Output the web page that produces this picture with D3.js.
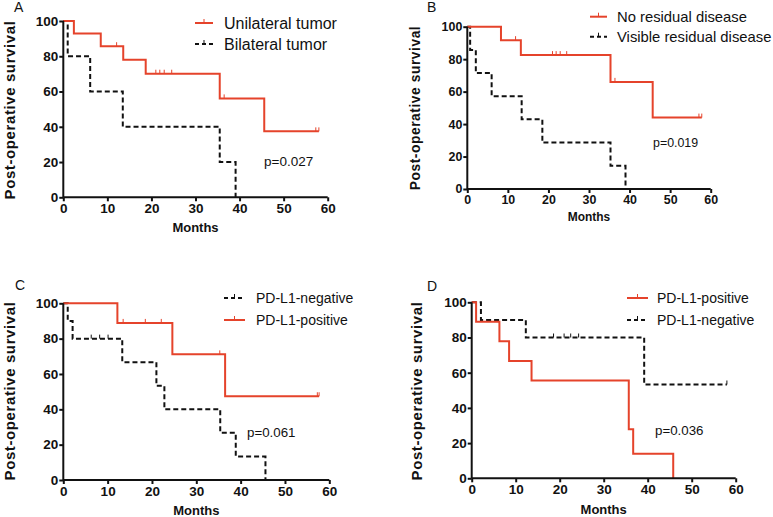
<!DOCTYPE html>
<html><head><meta charset="utf-8">
<script src="https://cdn.jsdelivr.net/npm/d3@7"></script>
<style>body{margin:0;background:#fff} text{font-family:Arial,"Liberation Sans",Helvetica,sans-serif;fill:#111}</style>
</head><body><svg id="c" width="773" height="517"></svg>
<script>
// ---------- data ----------
const xTicks = [0, 10, 20, 30, 40, 50, 60];
const yTicks = [0, 20, 40, 60, 80, 100];
const panelLetters = ["A", "B", "C", "D"];
const pValues = ["p=0.027", "p=0.019", "p=0.061", "p=0.036"];
const xTitle = "Months";
const yTitle = "Post-operative survival";

// Panel A
const aUniName = "Unilateral tumor";
const aUniTimes = [0, 2.4, 8.5, 13.6, 18.7, 35.5, 45.6, 58];
const aUniSurv = [100, 92.9, 85.7, 78.0, 70.1, 56.1, 37.4, 37.4];
const aUniCensor = [12.1, 21, 21.9, 22.9, 24.6, 36.5, 57.3, 58];
const aBiName = "Bilateral tumor";
const aBiTimes = [0, 1.0, 6.1, 13.5, 35.5, 39.1];
const aBiSurv = [100, 80, 60, 40, 20, 0];
const aBiCensor = [];

// Panel B
const bNoName = "No residual disease";
const bNoTimes = [0, 8.3, 13.2, 35.3, 45.7, 57.8];
const bNoSurv = [100, 91.7, 82.5, 66.0, 44.0, 44.0];
const bNoCensor = [11.9, 21, 21.9, 22.9, 24.5, 36.4, 57.1, 57.8];
const bVisName = "Visible residual disease";
const bVisTimes = [0, 0.7, 2.1, 6.0, 13.4, 18.5, 35.3, 39.0];
const bVisSurv = [100, 85.7, 71.4, 57.1, 42.9, 28.6, 14.3, 0];
const bVisCensor = [];

// Panel C
const cNegName = "PD-L1-negative";
const cNegTimes = [0, 1.0, 2.1, 13.3, 21.0, 22.8, 35.4, 38.9, 45.6];
const cNegSurv = [100, 90, 80, 66.7, 53.3, 40, 26.7, 13.3, 0];
const cNegCensor = [6.3, 8.2, 10.1];
const cPosName = "PD-L1-positive";
const cPosTimes = [0, 12.2, 24.6, 36.5, 57.7];
const cPosSurv = [100, 88.9, 71.1, 47.4, 47.4];
const cPosCensor = [13.5, 18.5, 22.1, 35.3, 57.3, 57.7];

// Panel D
const dPosName = "PD-L1-positive";
const dPosTimes = [0, 1.0, 6.3, 8.5, 13.6, 35.7, 36.7, 45.8];
const dPosSurv = [100, 88.9, 77.8, 66.7, 55.6, 27.8, 13.9, 0];
const dPosCensor = [];
const dNegName = "PD-L1-negative";
const dNegTimes = [0, 2.1, 12.3, 39.2, 58];
const dNegSurv = [100, 90, 80, 53.3, 53.3];
const dNegCensor = [18.6, 21.0, 22.5, 24.3, 58];

// ---------- styles / layout ----------
const RED = "#e5432b", BLACK = "#111";
const series = [
  [{name: aUniName, t: aUniTimes, s: aUniSurv, c: aUniCensor, col: RED, dash: null},
   {name: aBiName, t: aBiTimes, s: aBiSurv, c: aBiCensor, col: BLACK, dash: "5,3"}],
  [{name: bNoName, t: bNoTimes, s: bNoSurv, c: bNoCensor, col: RED, dash: null},
   {name: bVisName, t: bVisTimes, s: bVisSurv, c: bVisCensor, col: BLACK, dash: "5,3"}],
  [{name: cNegName, t: cNegTimes, s: cNegSurv, c: cNegCensor, col: BLACK, dash: "5,3"},
   {name: cPosName, t: cPosTimes, s: cPosSurv, c: cPosCensor, col: RED, dash: null}],
  [{name: dPosName, t: dPosTimes, s: dPosSurv, c: dPosCensor, col: RED, dash: null},
   {name: dNegName, t: dNegTimes, s: dNegSurv, c: dNegCensor, col: BLACK, dash: "5,3"}]
];
const layout = [
  {x0: 63.3, x1: 327.7, y0: 197.3, y1: 21, k: 1, leg: {lx0: 195, lx1: 213, ly: [23, 44], tx: 224, fs: 16},
   p: {x: 264, y: 166, fs: 13.5}, letter: {x: 14, y: 12}, yt: {x: 10, y: 110}, mt: 35},
  {x0: 467.3, x1: 710.7, y0: 189, y1: 26.7, k: 0.92, leg: {lx0: 590, lx1: 607, ly: [16.7, 36.7], tx: 617, fs: 14.8},
   p: {x: 653, y: 147, fs: 12.4}, letter: {x: 427, y: 12}, yt: {x: 415, y: 108}, mt: 32},
  {x0: 63.3, x1: 329.3, y0: 480, y1: 303.3, k: 1, leg: {lx0: 224, lx1: 245, ly: [298, 320], tx: 256, fs: 14},
   p: {x: 247, y: 437, fs: 13.3}, letter: {x: 15, y: 290}, yt: {x: 10, y: 391}, mt: 35},
  {x0: 471.7, x1: 735.7, y0: 478.3, y1: 302.3, k: 1, leg: {lx0: 627, lx1: 648, ly: [298, 320], tx: 657, fs: 14},
   p: {x: 655, y: 435, fs: 13.3}, letter: {x: 427, y: 291}, yt: {x: 417, y: 391}, mt: 36}
];

const svg = d3.select("#c");

layout.forEach((L, i) => {
  const g = svg.append("g");
  const x = d3.scaleLinear().domain([0, 60]).range([L.x0, L.x1]);
  const y = d3.scaleLinear().domain([0, 100]).range([L.y0, L.y1]);
  const k = L.k;

  // curves: draw black (dashed) first then red
  const ordered = series[i].slice().sort((a, b) => (a.dash ? 0 : 1) - (b.dash ? 0 : 1));
  const line = d3.line().x(d => x(d[0])).y(d => y(d[1])).curve(d3.curveStepAfter);
  ordered.forEach(S => {
    const pts = S.t.map((t, j) => [t, S.s[j]]);
    g.append("path").attr("d", line(pts)).attr("fill", "none")
      .attr("stroke", S.col).attr("stroke-width", 2)
      .attr("stroke-dasharray", S.dash);
    const survAt = t => { let v = S.s[0]; S.t.forEach((tt, j) => { if (tt <= t) v = S.s[j]; }); return v; };
    g.selectAll(null).data(S.c).join("line")
      .attr("x1", d => x(d)).attr("x2", d => x(d))
      .attr("y1", d => y(survAt(d))).attr("y2", d => y(survAt(d)) - 4)
      .attr("stroke", S.col).attr("stroke-width", 1);
  });

  // axes
  const xa = g.append("g").attr("transform", `translate(0,${L.y0})`)
    .call(d3.axisBottom(x).tickValues(xTicks).tickSize(4).tickPadding(2));
  const ya = g.append("g").attr("transform", `translate(${L.x0},0)`)
    .call(d3.axisLeft(y).tickValues(yTicks).tickSize(4).tickPadding(1));
  [xa, ya].forEach(a => {
    a.select(".domain").attr("stroke", BLACK).attr("stroke-width", 2);
    a.selectAll(".tick line").attr("stroke", BLACK).attr("stroke-width", 2);
    a.selectAll(".tick text").attr("font-size", 13.5 * k).attr("font-weight", "bold")
      .attr("font-family", "Arial, Liberation Sans, sans-serif").attr("fill", "#111");
  });
  ya.select(".domain").attr("d", `M0,${L.y0}V${L.y1}`);
  xa.select(".domain").attr("d", `M${L.x0},0H${L.x1}`);

  // axis titles
  g.append("text").attr("x", (L.x0 + L.x1) / 2).attr("y", L.y0 + L.mt)
    .attr("text-anchor", "middle").attr("font-weight", "bold").attr("font-size", 13 * k)
    .text(xTitle);
  g.append("text").attr("transform", `translate(${L.yt.x},${L.yt.y}) rotate(-90)`)
    .attr("text-anchor", "middle").attr("dy", "0.35em").attr("font-weight", "bold")
    .attr("font-size", 15 * k).attr("letter-spacing", 0.6 * k).text(yTitle);

  // panel letter
  g.append("text").attr("x", L.letter.x).attr("y", L.letter.y).attr("font-size", 14).text(panelLetters[i]);

  // p value
  g.append("text").attr("x", L.p.x).attr("y", L.p.y).attr("font-size", L.p.fs).text(pValues[i]);

  // legend
  series[i].forEach((S, j) => {
    const ly = L.leg.ly[j];
    g.append("line").attr("x1", L.leg.lx0).attr("x2", L.leg.lx1).attr("y1", ly).attr("y2", ly)
      .attr("stroke", S.col).attr("stroke-width", 2).attr("stroke-dasharray", S.dash ? "4,3" : null);
    const mx = (L.leg.lx0 + L.leg.lx1) / 2;
    g.append("line").attr("x1", mx).attr("x2", mx).attr("y1", ly).attr("y2", ly - 4)
      .attr("stroke", S.col).attr("stroke-width", 1);
    g.append("text").attr("x", L.leg.tx).attr("y", ly).attr("dy", "0.35em")
      .attr("font-size", L.leg.fs).text(S.name);
  });
});
</script></body></html>
